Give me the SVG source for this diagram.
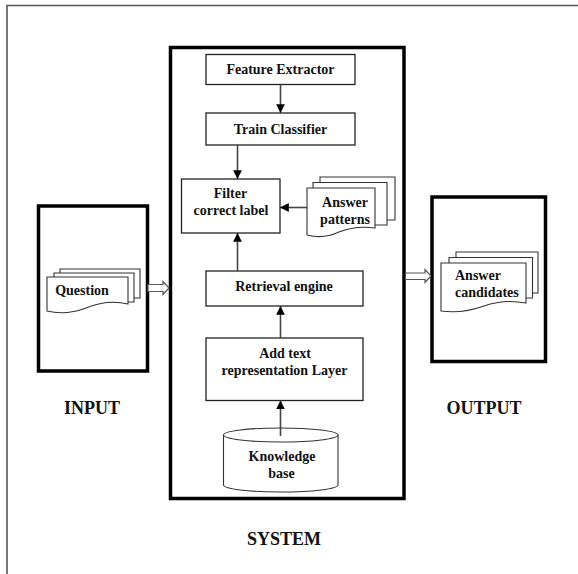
<svg xmlns="http://www.w3.org/2000/svg" width="578" height="574" viewBox="0 0 578 574">
  <style>
    .t { font-family: "Liberation Serif", "Times New Roman", serif; font-weight: bold; font-size: 14px; fill: #111; text-anchor: middle; }
    .big { font-size: 18px; }
    .box { fill: #fff; stroke: #222; stroke-width: 1.3; }
    .thick { fill: #fff; stroke: #000; stroke-width: 3.5; }
    .doc { fill: #fff; stroke: #333; stroke-width: 1.1; }
    .con { stroke: #444; stroke-width: 1.6; fill: none; marker-end: url(#ah); }
    .blk { fill: #fff; stroke: #555; stroke-width: 1.2; }
  </style>
  <defs>
    <marker id="ah" viewBox="0 0 10 10" refX="10" refY="5" markerWidth="5.5" markerHeight="5.5" orient="auto" markerUnits="strokeWidth">
      <path d="M0,0 L10,5 L0,10 Z" fill="#000"/>
    </marker>
  </defs>

  <rect width="578" height="574" fill="#fff"/>
  <!-- page frame -->
  <path d="M7,574 V5.5 H578" fill="none" stroke="#555" stroke-width="1.6"/>

  <!-- input panel -->
  <g id="input">
    <rect class="thick" x="38.5" y="206" width="109" height="165"/>
    <g id="question">
      <path class="doc" d="M60,269 H140 V298 H60 Z"/>
      <path class="doc" d="M54,273 H134 V302 H54 Z"/>
      <path class="doc" d="M47,277 H128 V304 C112,300 98,303 86,308 C73,313 59,314 47,311 Z"/>
      <text class="t" x="82" y="295">Question</text>
    </g>
    <text class="t big" x="92" y="413.5">INPUT</text>
  </g>

  <!-- system panel -->
  <g id="system">
    <rect class="thick" x="170.5" y="47.5" width="233.5" height="451"/>
    <text class="t big" x="284" y="544.5">SYSTEM</text>
  </g>

  <g id="feature-extractor">
    <rect class="box" x="206" y="54.5" width="149" height="30"/>
    <text class="t" x="280.5" y="73.5">Feature Extractor</text>
  </g>

  <g id="train-classifier">
    <rect class="box" x="206" y="113" width="149" height="32"/>
    <text class="t" x="280.5" y="133.5">Train Classifier</text>
  </g>

  <g id="filter">
    <rect class="box" x="181.5" y="179" width="98.5" height="54"/>
    <text class="t" x="230.5" y="197.5">Filter</text>
    <text class="t" x="231" y="214.5">correct label</text>
  </g>

  <g id="answer-patterns">
    <path class="doc" d="M320,177 H395 V220 H320 Z"/>
    <path class="doc" d="M313,182.5 H387 V225 H313 Z"/>
    <path class="doc" d="M307,188 H375 V228 C361,226 349,228 339,232 C328,237 318,238 307,235 Z"/>
    <text class="t" x="345" y="207">Answer</text>
    <text class="t" x="345" y="223.5">patterns</text>
  </g>

  <g id="retrieval-engine">
    <rect class="box" x="206" y="271" width="157" height="35"/>
    <text class="t" x="284" y="290.5">Retrieval engine</text>
  </g>

  <g id="add-text">
    <rect class="box" x="206" y="338" width="157" height="62.5"/>
    <text class="t" x="285" y="358">Add text</text>
    <text class="t" x="284.5" y="375">representation Layer</text>
  </g>

  <g id="knowledge-base">
    <path class="doc" d="M223.5,435 V485 A57.25,7 0 0 0 338,485 V435 A57.25,7 0 0 0 223.5,435 Z"/>
    <path d="M223.5,435 A57.25,7 0 0 0 338,435" fill="none" stroke="#333" stroke-width="1.1"/>
    <text class="t" x="282" y="461">Knowledge</text>
    <text class="t" x="281.5" y="477.5">base</text>
  </g>

  <!-- output panel -->
  <g id="output">
    <rect class="thick" x="432" y="197" width="113.5" height="164.5"/>
    <g id="answer-candidates">
      <path class="doc" d="M456,252 H538 V293 H456 Z"/>
      <path class="doc" d="M449,257.5 H532.5 V298 H449 Z"/>
      <path class="doc" d="M441,263 H526 V303 C510,300 495,302 484,306 C470,311 455,313 441,311 Z"/>
      <text class="t" x="455" y="280" style="text-anchor:start">Answer</text>
      <text class="t" x="455" y="297" style="text-anchor:start">candidates</text>
    </g>
    <text class="t big" x="484" y="414">OUTPUT</text>
  </g>

  <!-- connectors -->
  <g id="connectors">
    <line class="con" x1="280.5" y1="84.5" x2="280.5" y2="113"/>
    <line class="con" x1="237.5" y1="145" x2="237.5" y2="179"/>
    <line class="con" x1="307" y1="207.5" x2="280" y2="207.5"/>
    <line class="con" x1="237.5" y1="271" x2="237.5" y2="233"/>
    <line class="con" x1="280.5" y1="338" x2="280.5" y2="306"/>
    <line class="con" x1="280.5" y1="436" x2="280.5" y2="400.5"/>
    <!-- hollow block arrows between panels -->
    <path class="blk" d="M148,284.5 H163 V281.5 L169,288 L163,294.5 V291.5 H148 Z"/>
    <path class="blk" d="M405.5,273 H425 V269.5 L431,276 L425,282.5 V279.5 H405.5 Z"/>
  </g>
</svg>
